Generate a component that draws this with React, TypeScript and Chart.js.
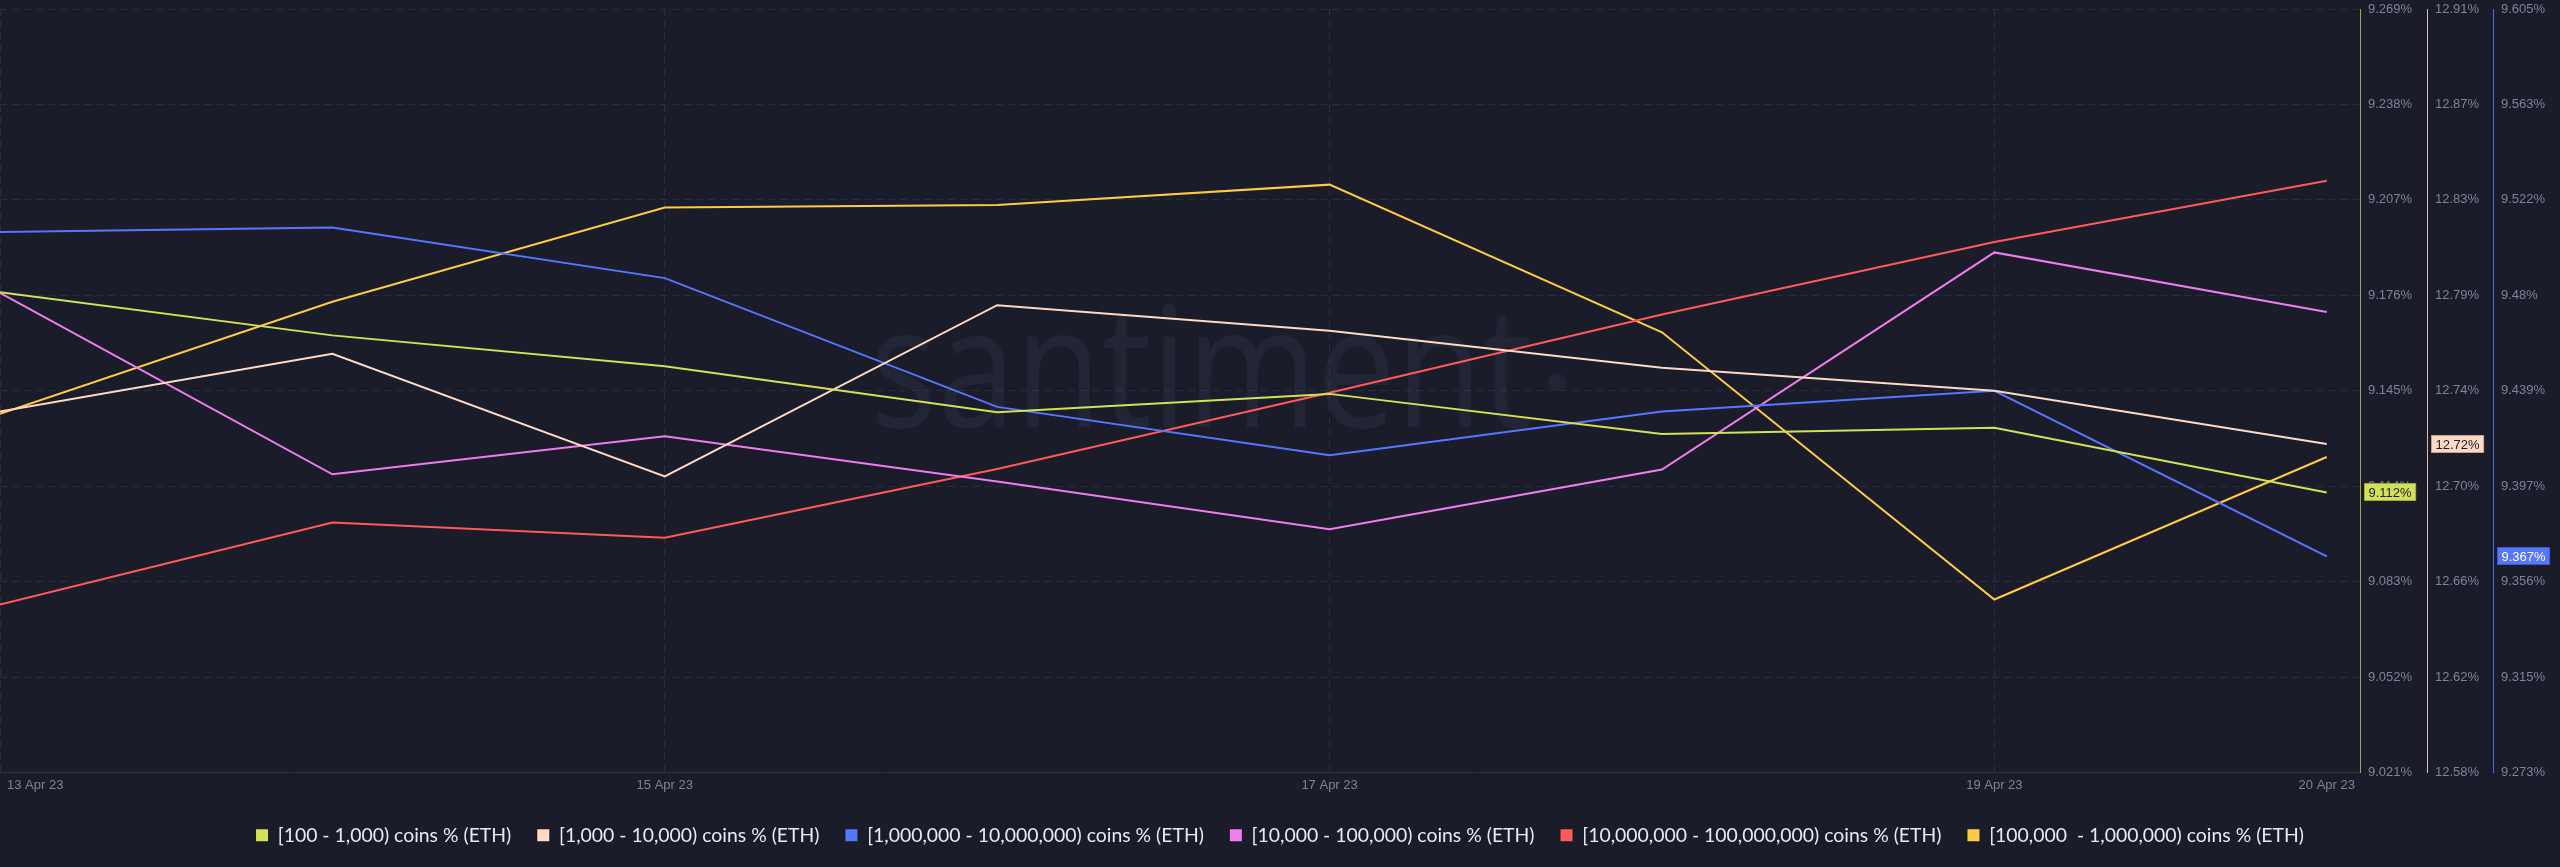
import React, { useEffect, useRef } from 'react';
import { Chart, registerables } from 'chart.js';

Chart.register(...registerables);

// ---------- data ----------
const dates = ['13 Apr 23', '14 Apr 23', '15 Apr 23', '16 Apr 23', '17 Apr 23', '18 Apr 23', '19 Apr 23', '20 Apr 23'];
const xTickLabels = ['13 Apr 23', '', '15 Apr 23', '', '17 Apr 23', '', '19 Apr 23', '20 Apr 23'];

const seriesLabels = [
  '[100 - 1,000) coins % (ETH)',
  '[1,000 - 10,000) coins % (ETH)',
  '[1,000,000 - 10,000,000) coins % (ETH)',
  '[10,000 - 100,000) coins % (ETH)',
  '[10,000,000 - 100,000,000) coins % (ETH)',
  '[100,000  - 1,000,000) coins % (ETH)',
];

const s100to1k = [9.177, 9.163, 9.153, 9.138, 9.144, 9.131, 9.133, 9.112];
const s1kto10k = [12.736, 12.761, 12.708, 12.782, 12.771, 12.755, 12.745, 12.722];
const s1mto10m = [9.508, 9.510, 9.488, 9.432, 9.411, 9.430, 9.439, 9.367];
const s10kto100k = [12.501, 12.425, 12.441, 12.422, 12.402, 12.427, 12.518, 12.493];
const s10mto100m = [27.488, 27.531, 27.523, 27.559, 27.599, 27.640, 27.678, 27.710];
const s100kto1m = [16.541, 16.585, 16.622, 16.623, 16.631, 16.573, 16.468, 16.524];

const y1TickLabels = ['9.021%', '9.052%', '9.083%', '9.114%', '9.145%', '9.176%', '9.207%', '9.238%', '9.269%'];
const y2TickLabels = ['12.58%', '12.62%', '12.66%', '12.70%', '12.74%', '12.79%', '12.83%', '12.87%', '12.91%'];
const y3TickLabels = ['9.273%', '9.315%', '9.356%', '9.397%', '9.439%', '9.48%', '9.522%', '9.563%', '9.605%'];

// ---------- style ----------
const BG = '#1a1c2a';
const GRID = '#2a2d40';
const TICK = '#7d8499';
const COLORS = ['#d4e157', '#ffd9c4', '#5577ff', '#f07cf0', '#ff5a5a', '#ffcb45'];
const AXIS_COLORS = ['rgba(212,225,87,0.72)', 'rgba(255,217,196,0.85)', 'rgba(85,119,255,0.85)'];
const FONT = '"Liberation Sans", Arial, sans-serif';

function visibleAxis(min: number, max: number, labels: string[], color: string, width: number, showGrid: boolean) {
  return {
    type: 'linear',
    position: 'right',
    min,
    max,
    afterBuildTicks: (scale: any) => {
      scale.ticks = labels.map((_, i) => ({ value: min + ((max - min) * i) / (labels.length - 1) }));
    },
    afterFit: (scale: any) => {
      scale.width = width;
      scale.paddingTop = 0;
      scale.paddingBottom = 0;
    },
    ticks: {
      callback: (_v: any, i: number) => labels[i],
      padding: 8,
      color: TICK,
      font: { family: FONT, size: 13 },
    },
    grid: { display: showGrid, drawTicks: false, color: GRID, lineWidth: 1 },
    border: { display: true, color, width: 1, dash: [7, 5] },
  };
}

function hiddenAxis(min: number, max: number) {
  return { type: 'linear', position: 'right', display: false, min, max };
}

const watermarkPlugin = {
  id: 'watermark',
  beforeDatasetsDraw(chart: any) {
    const { ctx, chartArea } = chart;
    const w = chartArea.right - chartArea.left;
    const cx = chartArea.left + w * 0.509;
    const baseY = chartArea.top + (chartArea.bottom - chartArea.top) * 0.548;
    ctx.save();
    ctx.fillStyle = 'rgba(120,135,190,0.085)';
    ctx.font = '168px "Open Sans", sans-serif';
    ctx.textAlign = 'center';
    ctx.textBaseline = 'alphabetic';
    const tw = ctx.measureText('santiment').width;
    const sx = 662 / tw;
    ctx.translate(cx, baseY);
    ctx.scale(sx, 1);
    ctx.fillText('santiment', 0, 0);
    ctx.restore();
    ctx.save();
    ctx.fillStyle = 'rgba(120,135,190,0.085)';
    ctx.beginPath();
    ctx.arc(cx + 356, baseY - 45, 9, 0, Math.PI * 2);
    ctx.fill();
    ctx.restore();
  },
};

const overlayPlugin = {
  id: 'overlay',
  afterDraw(chart: any) {
    const { ctx, chartArea } = chart;
    const xs = chart.scales.x;
    ctx.save();
    ctx.font = `13px ${FONT}`;
    ctx.fillStyle = TICK;
    ctx.textBaseline = 'middle';
    ctx.textAlign = 'center';
    xTickLabels.forEach((lab, i) => {
      if (!lab) return;
      const w = ctx.measureText(lab).width;
      let px = xs.getPixelForValue(i);
      px = Math.max(px, chartArea.left + 7 + w / 2);
      px = Math.min(px, chartArea.right + 22 - w / 2);
      ctx.fillText(lab, px, chartArea.bottom + 13);
    });
    // last-value badges on visible axes
    const badgeDefs = [
      { axis: 'y1', ds: 0, digits: 3, text: '#1a1c2a' },
      { axis: 'y2', ds: 1, digits: 2, text: '#1a1c2a' },
      { axis: 'y3', ds: 2, digits: 3, text: '#ffffff' },
    ];
    badgeDefs.forEach((b) => {
      const scale = chart.scales[b.axis];
      const data = chart.data.datasets[b.ds].data;
      const v = data[data.length - 1].y;
      const y = Math.round(scale.getPixelForValue(v));
      const label = v.toFixed(b.digits) + '%';
      const w = ctx.measureText(label).width;
      const x = scale.left + 4;
      ctx.fillStyle = COLORS[b.ds];
      ctx.fillRect(x, y - 9, w + 9, 18);
      ctx.strokeStyle = 'rgba(0,0,0,0.25)';
      ctx.lineWidth = 1;
      ctx.strokeRect(x + 0.5, y - 8.5, w + 8, 17);
      ctx.fillStyle = b.text;
      ctx.textAlign = 'left';
      ctx.fillText(label, x + 4.5, y + 1);
    });
    ctx.restore();
  },
};

const seriesData = [s100to1k, s1kto10k, s1mto10m, s10kto100k, s10mto100m, s100kto1m];
const axisIds = ['y1', 'y2', 'y3', 'y4', 'y5', 'y6'];

export default function App() {
  const ref = useRef<HTMLCanvasElement>(null);
  useEffect(() => {
    if (!ref.current) return;
    const chart = new Chart(ref.current, {
      type: 'line',
      data: {
        datasets: seriesData.map((vals, k) => ({
          label: seriesLabels[k],
          data: vals.map((v, i) => ({ x: i, y: v })),
          borderColor: COLORS[k],
          backgroundColor: COLORS[k],
          borderWidth: 2,
          pointRadius: 0,
          tension: 0,
          yAxisID: axisIds[k],
        })),
      },
      options: {
        responsive: false,
        animation: false,
        layout: { padding: { top: 9, bottom: 12, left: 0, right: 0 } },
        plugins: {
          tooltip: { enabled: false },
          legend: {
            position: 'bottom',
            labels: {
              color: '#e9eaf0',
              font: { family: 'Lato, sans-serif', size: 19.4 },
              boxWidth: 12,
              boxHeight: 12,
              padding: 26,
              generateLabels: (chart: any) =>
                Chart.defaults.plugins.legend.labels.generateLabels(chart).map((l: any) => ({ ...l, lineWidth: 0 })),
            },
          },
        },
        scales: {
          x: {
            type: 'linear',
            min: 0,
            max: 7.1,
            afterBuildTicks: (scale: any) => {
              scale.ticks = [0, 2, 4, 6].map((v) => ({ value: v }));
            },
            afterFit: (scale: any) => {
              scale.height = 27;
            },
            ticks: { display: false },
            grid: { display: true, drawTicks: false, color: GRID },
            border: { display: true, color: '#2c2f43', width: 1, dash: [7, 5] },
          },
          y1: visibleAxis(9.021, 9.269, y1TickLabels, AXIS_COLORS[0], 67, true),
          y2: visibleAxis(12.58, 12.91, y2TickLabels, AXIS_COLORS[1], 66, false),
          y3: visibleAxis(9.273, 9.605, y3TickLabels, AXIS_COLORS[2], 67, false),
          y4: hiddenAxis(12.3, 12.62),
          y5: hiddenAxis(27.4, 27.8),
          y6: hiddenAxis(16.4, 16.7),
        },
      } as any,
      plugins: [watermarkPlugin, overlayPlugin],
    } as any);
    return () => chart.destroy();
  }, []);
  return (
    <div style={{ position: 'fixed', left: 0, top: 0, width: 2560, height: 867, background: BG }}>
      <canvas ref={ref} width={2560} height={867} style={{ display: 'block', width: 2560, height: 867 }} />
    </div>
  );
}
